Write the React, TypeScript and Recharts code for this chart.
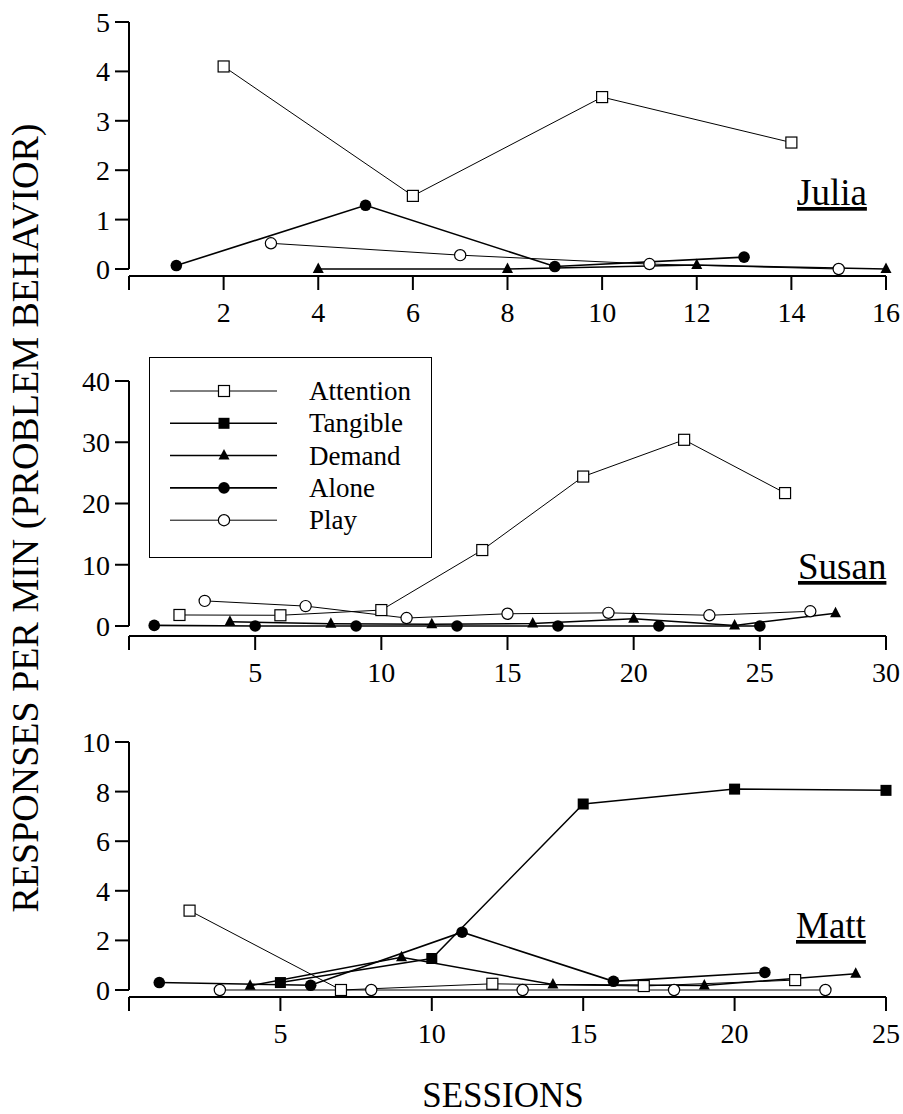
import { Legend, Line, LineChart, ReferenceLine, XAxis, YAxis } from "recharts";

const FONT =
  "'Liberation Serif', 'Times New Roman', Tinos, 'Nimbus Roman', 'Nimbus Roman No9 L', FreeSerif, 'Noto Serif', 'DejaVu Serif', Times, serif";

const conditions = ["Attention", "Tangible", "Demand", "Alone", "Play"];

// Julia
const juliaAttentionSessions = [2, 6, 10, 14];
const juliaAttentionRates = [4.1, 1.48, 3.48, 2.56];
const juliaDemandSessions = [4, 8, 12, 16];
const juliaDemandRates = [0, 0, 0.08, 0];
const juliaAloneSessions = [1, 5, 9, 13];
const juliaAloneRates = [0.07, 1.29, 0.05, 0.24];
const juliaPlaySessions = [3, 7, 11, 15];
const juliaPlayRates = [0.52, 0.28, 0.1, 0];

// Susan
const susanAttentionSessions = [2, 6, 10, 14, 18, 22, 26];
const susanAttentionRates = [1.8, 1.75, 2.6, 12.4, 24.4, 30.4, 21.7];
const susanDemandSessions = [4, 8, 12, 16, 20, 24, 28];
const susanDemandRates = [0.7, 0.35, 0.3, 0.4, 1.2, 0.1, 2.1];
const susanAloneSessions = [1, 5, 9, 13, 17, 21, 25];
const susanAloneRates = [0.1, 0, 0, 0, 0, 0, 0];
const susanPlaySessions = [3, 7, 11, 15, 19, 23, 27];
const susanPlayRates = [4.1, 3.25, 1.3, 2.0, 2.15, 1.75, 2.4];

// Matt
const mattAttentionSessions = [2, 7, 12, 17, 22];
const mattAttentionRates = [3.2, 0, 0.25, 0.16, 0.4];
const mattTangibleSessions = [5, 10, 15, 20, 25];
const mattTangibleRates = [0.3, 1.27, 7.5, 8.1, 8.05];
const mattDemandSessions = [4, 9, 14, 19, 24];
const mattDemandRates = [0.17, 1.32, 0.22, 0.18, 0.66];
const mattAloneSessions = [1, 6, 11, 16, 21];
const mattAloneRates = [0.3, 0.19, 2.33, 0.35, 0.71];
const mattPlaySessions = [3, 8, 13, 18, 23];
const mattPlayRates = [0, 0, 0, 0, 0];

const juliaXTicks = [0, 2, 4, 6, 8, 10, 12, 14, 16];
const juliaYTicks = [0, 1, 2, 3, 4, 5];
const susanXTicks = [0, 5, 10, 15, 20, 25, 30];
const susanYTicks = [0, 10, 20, 30, 40];
const mattXTicks = [0, 5, 10, 15, 20, 25];
const mattYTicks = [0, 2, 4, 6, 8, 10];

const toRows = (sessions: number[], rates: number[]) =>
  sessions.map((s, i) => ({ session: s, rate: rates[i] }));

const lineWidth: Record<string, number> = {
  Attention: 1,
  Tangible: 1.5,
  Demand: 1.5,
  Alone: 1.6,
  Play: 1,
};

const Marker = ({ condition, cx, cy }: { condition: string; cx: number; cy: number }) => {
  if (cx == null || cy == null) return null;
  switch (condition) {
    case "Attention":
      return <rect x={cx - 5.5} y={cy - 5.5} width={11} height={11} fill="#fff" stroke="#000" strokeWidth={1.2} />;
    case "Tangible":
      return <rect x={cx - 5.5} y={cy - 5.5} width={11} height={11} fill="#000" />;
    case "Demand":
      return <polygon points={`${cx},${cy - 6.5} ${cx - 5.5},${cy + 4} ${cx + 5.5},${cy + 4}`} fill="#000" />;
    case "Alone":
      return <circle cx={cx} cy={cy} r={5.8} fill="#000" />;
    default:
      return <circle cx={cx} cy={cy} r={5.6} fill="#fff" stroke="#000" strokeWidth={1.2} />;
  }
};

const renderDot = (condition: string) => (props: any) => (
  <g key={`${condition}-${props.index}`}>
    <Marker condition={condition} cx={props.cx} cy={props.cy} />
  </g>
);

const panels = [
  {
    name: "Julia",
    top: 0,
    height: 346,
    marginTop: 22,
    xMax: 16,
    xTicks: juliaXTicks,
    yMax: 5,
    yTicks: juliaYTicks,
    gap: 7,
    series: [
      { condition: "Attention", data: toRows(juliaAttentionSessions, juliaAttentionRates) },
      { condition: "Demand", data: toRows(juliaDemandSessions, juliaDemandRates) },
      { condition: "Alone", data: toRows(juliaAloneSessions, juliaAloneRates) },
      { condition: "Play", data: toRows(juliaPlaySessions, juliaPlayRates) },
    ],
  },
  {
    name: "Susan",
    top: 350,
    height: 356,
    marginTop: 31,
    xMax: 30,
    xTicks: susanXTicks,
    yMax: 40,
    yTicks: susanYTicks,
    gap: 10,
    legend: true,
    series: [
      { condition: "Attention", data: toRows(susanAttentionSessions, susanAttentionRates) },
      { condition: "Demand", data: toRows(susanDemandSessions, susanDemandRates) },
      { condition: "Alone", data: toRows(susanAloneSessions, susanAloneRates) },
      { condition: "Play", data: toRows(susanPlaySessions, susanPlayRates) },
    ],
  },
  {
    name: "Matt",
    top: 710,
    height: 357,
    marginTop: 32,
    xMax: 25,
    xTicks: mattXTicks,
    yMax: 10,
    yTicks: mattYTicks,
    gap: 7,
    series: [
      { condition: "Attention", data: toRows(mattAttentionSessions, mattAttentionRates) },
      { condition: "Tangible", data: toRows(mattTangibleSessions, mattTangibleRates) },
      { condition: "Demand", data: toRows(mattDemandSessions, mattDemandRates) },
      { condition: "Alone", data: toRows(mattAloneSessions, mattAloneRates) },
      { condition: "Play", data: toRows(mattPlaySessions, mattPlayRates) },
    ],
  },
];

const LegendBox = () => (
  <svg width={284} height={202} style={{ display: "block" }}>
    <rect x={0.5} y={0.5} width={282} height={200} fill="#fff" stroke="#000" strokeWidth={1} />
    {conditions.map((c, i) => {
      const y = 34 + i * 32.3;
      return (
        <g key={c}>
          <line x1={21} x2={128} y1={y} y2={y} stroke="#000" strokeWidth={lineWidth[c]} />
          <Marker condition={c} cx={75} cy={y} />
          <text x={160} y={y} dominantBaseline="central" style={{ fontFamily: FONT, fontSize: 27 }} fill="#000">
            {c}
          </text>
        </g>
      );
    })}
  </svg>
);

const tickStyle = { fill: "#000", fontSize: 28, style: { fontFamily: FONT } };

const textStyle = (size: number) => ({ fontFamily: FONT, fontSize: size });

const App = () => {
  return (
    <div
      style={{
        position: "absolute",
        left: 0,
        top: 0,
        width: 903,
        height: 1114,
        background: "#fff",
        fontFamily: FONT,
      }}
    >
      {panels.map((p) => (
        <div key={p.name} style={{ position: "absolute", left: 0, top: p.top }}>
          <LineChart
            width={903}
            height={p.height}
            margin={{ top: p.marginTop, right: 17, bottom: 20, left: 0 }}
            style={{ fontFamily: FONT }}
          >
            <XAxis
              dataKey="session"
              type="number"
              domain={[0, p.xMax]}
              ticks={p.xTicks}
              tickFormatter={(v) => (v === 0 ? "" : String(v))}
              height={50}
              tickSize={14}
              tickMargin={12}
              axisLine={{ stroke: "#000", strokeWidth: 2 }}
              tickLine={{ stroke: "#000", strokeWidth: 2 }}
              tick={tickStyle}
            />
            <YAxis
              type="number"
              domain={[0, p.yMax]}
              ticks={p.yTicks}
              width={129}
              padding={{ bottom: p.gap }}
              tickSize={14}
              tickMargin={5}
              axisLine={false}
              tickLine={{ stroke: "#000", strokeWidth: 2 }}
              tick={tickStyle}
            />
            <ReferenceLine
              segment={[
                { x: 0, y: 0 },
                { x: 0, y: p.yMax },
              ]}
              stroke="#000"
              strokeWidth={2}
            />
            {p.series.map((s) => (
              <Line
                key={s.condition}
                data={s.data}
                dataKey="rate"
                name={s.condition}
                type="linear"
                stroke="#000"
                strokeWidth={lineWidth[s.condition]}
                dot={renderDot(s.condition)}
                activeDot={false}
                isAnimationActive={false}
              />
            ))}
            {p.legend && (
              <Legend
                layout="vertical"
                align="center"
                verticalAlign="middle"
                wrapperStyle={{ left: 149, top: 7, width: 284, height: 202 }}
                content={() => <LegendBox />}
              />
            )}
          </LineChart>
        </div>
      ))}
      <svg width={903} height={1114} style={{ position: "absolute", left: 0, top: 0, pointerEvents: "none" }}>
        <text
          x={38}
          y={518}
          transform="rotate(-90 38 518)"
          textAnchor="middle"
          style={textStyle(38)}
          fill="#000"
        >
          RESPONSES PER MIN (PROBLEM BEHAVIOR)
        </text>
        <text x={503} y={1107} textAnchor="middle" style={textStyle(35)} fill="#000">
          SESSIONS
        </text>
        <text x={797} y={205} style={textStyle(37)} fill="#000" textDecoration="underline">
          Julia
        </text>
        <text x={798} y={579} style={textStyle(37)} fill="#000" textDecoration="underline">
          Susan
        </text>
        <text x={796} y={938} style={textStyle(37)} fill="#000" textDecoration="underline">
          Matt
        </text>
      </svg>
    </div>
  );
};

export default App;
